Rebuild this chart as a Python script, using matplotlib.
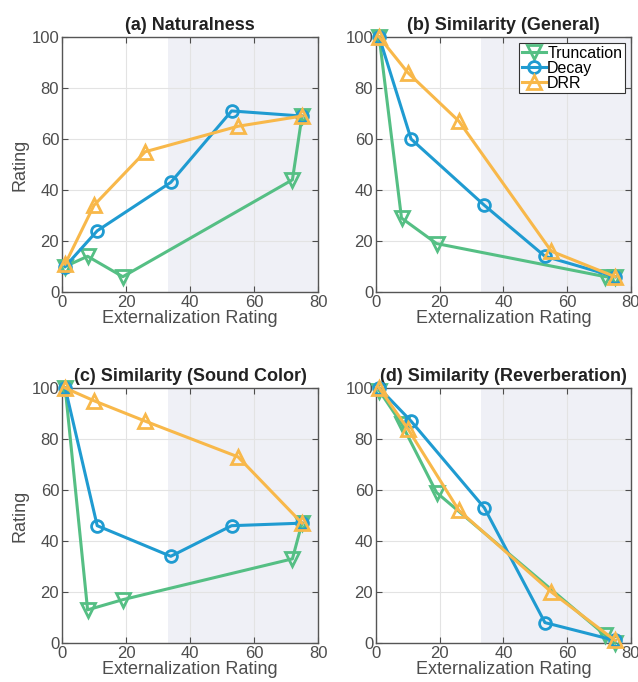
import matplotlib
matplotlib.use("Agg")
import matplotlib.pyplot as plt

plt.rcParams['font.family'] = ['Liberation Sans', 'DejaVu Sans']

titles = ["(a) Naturalness", "(b) Similarity (General)",
          "(c) Similarity (Sound Color)", "(d) Similarity (Reverberation)"]
series_names = ["Truncation", "Decay", "DRR"]

trunc_x = [1, 8, 19, 72, 75]
decay_x = [1, 11, 34, 53, 75]
drr_x = [1, 10, 26, 55, 75]

trunc_y = [[10, 14, 6, 44, 69],
           [100, 29, 19, 6, 6],
           [100, 13, 17, 33, 47],
           [99, 86, 59, 3, 0]]
decay_y = [[10, 24, 43, 71, 69],
           [100, 60, 34, 14, 6],
           [100, 46, 34, 46, 47],
           [100, 87, 53, 8, 1]]
drr_y = [[11, 34, 55, 65, 69],
         [100, 86, 67, 16, 6],
         [100, 95, 87, 73, 47],
         [100, 84, 52, 20, 1]]

shade_start = 33
xticks = [0, 20, 40, 60, 80]
yticks = [0, 20, 40, 60, 80, 100]

c_green = "#55bf84"
c_blue = "#1f9bd1"
c_orange = "#f8b84a"
c_text = "#4d4d4d"

fig = plt.figure(figsize=(6.38, 6.82), dpi=100)
W, H = 638, 682
boxes = [(62, 37, 318, 292), (376, 37, 631, 292),
         (62, 388, 318, 643), (376, 388, 631, 643)]

for i, (l, t, r, b) in enumerate(boxes):
    ax = fig.add_axes([l / W, 1 - b / H, (r - l) / W, (b - t) / H])
    ax.axvspan(shade_start, 80, color="#eff0f6", zorder=0, lw=0)
    ax.grid(True, color="#e3e3e3", lw=0.8, zorder=0.5)
    ax.set_axisbelow(True)
    ax.plot(trunc_x, trunc_y[i], color=c_green, lw=2.2, marker="v", ms=10,
            mfc="none", mew=2, label=series_names[0], zorder=3, clip_on=False)
    ax.plot(decay_x, decay_y[i], color=c_blue, lw=2.2, marker="o", ms=8.5,
            mfc="none", mew=2, label=series_names[1], zorder=4, clip_on=False)
    ax.plot(drr_x, drr_y[i], color=c_orange, lw=2.2, marker="^", ms=10,
            mfc="none", mew=2, label=series_names[2], zorder=5, clip_on=False)
    ax.set_xlim(0, 80)
    ax.set_ylim(0, 100)
    ax.set_xticks(xticks)
    ax.set_yticks(yticks)
    ax.tick_params(direction="in", top=True, right=True, labelsize=12,
                   colors=c_text, length=4, pad=2)
    for sp in ax.spines.values():
        sp.set_color("#555555")
        sp.set_linewidth(1.0)
    ax.set_title(titles[i], fontsize=13, fontweight="bold", color="#222222", pad=5)
    ax.set_xlabel("Externalization Rating", fontsize=13, color=c_text, labelpad=0)
    if i in (0, 2):
        ax.set_ylabel("Rating", fontsize=13, color=c_text, labelpad=2)
    if i == 1:
        leg = ax.legend(loc="upper right", fontsize=11.5, frameon=True, fancybox=False,
                        edgecolor="#333333", borderpad=0.15, labelspacing=0.0,
                        handlelength=1.5, handletextpad=0.1, borderaxespad=0.4,
                        framealpha=1)
        leg.get_frame().set_linewidth(0.8)

fig.savefig("out.png", dpi=100)
